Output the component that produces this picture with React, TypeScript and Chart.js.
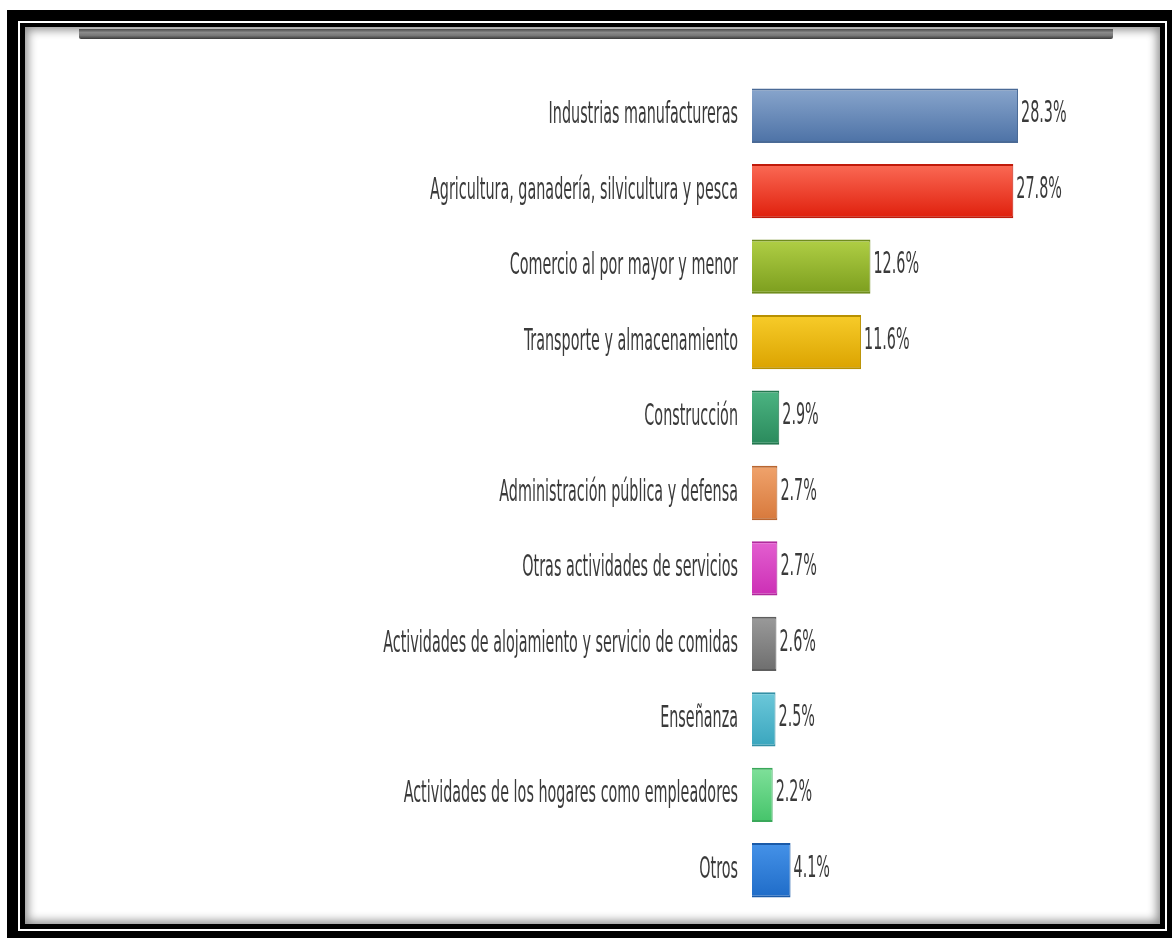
import React, { useEffect, useRef } from "react";
import { Chart, registerables } from "chart.js";

Chart.register(...registerables);

const categories = [
  "Industrias manufactureras",
  "Agricultura, ganadería, silvicultura y pesca",
  "Comercio al por mayor y menor",
  "Transporte y almacenamiento",
  "Construcción",
  "Administración pública y defensa",
  "Otras actividades de servicios",
  "Actividades de alojamiento y servicio de comidas",
  "Enseñanza",
  "Actividades de los hogares como empleadores",
  "Otros",
];

const values = [28.3, 27.8, 12.6, 11.6, 2.9, 2.7, 2.7, 2.6, 2.5, 2.2, 4.1];

const topColors = ["#88a5cc", "#fb6a55", "#b0cf45", "#f7cc2a", "#4cb482", "#f0a36c", "#e35fd0", "#9a9a9a", "#6cc8da", "#7fe09a", "#4592e8"];
const bottomColors = ["#4d72a6", "#df1f0c", "#7c9e1e", "#dba300", "#2a8a5c", "#d7793c", "#cc2fb5", "#6e6e6e", "#3aa6be", "#45c46a", "#1f6cc8"];
const borderColors = ["#4a6a96", "#c01a0a", "#6f8c1c", "#b89000", "#24774f", "#b86630", "#b02a9c", "#5e5e5e", "#3390a5", "#3aa85a", "#1a5aa8"];

const FONT = "'Liberation Sans Narrow', 'Arial Narrow', 'DejaVu Sans Condensed', 'Liberation Sans', sans-serif";

const labelsPlugin = {
  id: "stretchedLabels",
  afterDatasetsDraw(chart: any) {
    const ctx = chart.ctx;
    const meta = chart.getDatasetMeta(0);
    const yScale = chart.scales.y;
    const left = chart.chartArea.left;
    ctx.save();
    ctx.fillStyle = "#3a3a3a";
    ctx.font = `19px ${FONT}`;
    ctx.textBaseline = "middle";
    categories.forEach((cat, i) => {
      const y = yScale.getPixelForValue(i);
      ctx.save();
      ctx.translate(left - 14, y);
      ctx.scale(0.84, 1.55);
      ctx.textAlign = "right";
      ctx.fillText(cat, 0, 0);
      ctx.restore();
      const bar = meta.data[i];
      ctx.save();
      ctx.translate(bar.x + 3, bar.y - 1);
      ctx.scale(0.84, 1.55);
      ctx.textAlign = "left";
      ctx.fillText(values[i].toFixed(1) + "%", 0, 0);
      ctx.restore();
    });
    ctx.restore();
  },
};

export default function App() {
  const ref = useRef<HTMLCanvasElement>(null);
  useEffect(() => {
    if (!ref.current) return;
    const chart = new Chart(ref.current, {
      type: "bar",
      data: {
        labels: categories,
        datasets: [
          {
            data: values,
            backgroundColor: (c: any) => {
              const ch = c.chart;
              const ys = ch.scales && ch.scales.y;
              const i = c.dataIndex;
              if (!ys || i === undefined) return bottomColors[i || 0];
              const cy = ys.getPixelForValue(i);
              if (!isFinite(cy)) return bottomColors[i];
              const g = ch.ctx.createLinearGradient(0, cy - 27, 0, cy + 27);
              g.addColorStop(0, topColors[i]);
              g.addColorStop(1, bottomColors[i]);
              return g;
            },
            borderColor: borderColors,
            borderWidth: { top: 2, bottom: 2, left: 0, right: 1 },
            borderSkipped: false,
            barPercentage: 0.72,
            categoryPercentage: 1,
          },
        ],
      },
      options: {
        indexAxis: "y",
        responsive: false,
        animation: false,
        layout: { padding: { left: 752, top: 78, bottom: 30, right: 138 } },
        plugins: { legend: { display: false }, tooltip: { enabled: false } },
        scales: {
          x: { display: false, min: 0, max: 30 },
          y: { display: false },
        },
      },
      plugins: [labelsPlugin],
    });
    return () => chart.destroy();
  }, []);

  return (
    <div style={{ position: "fixed", left: 0, top: 0, width: 1172, height: 938, background: "#fff", overflow: "hidden" }}>
      <div style={{ position: "absolute", left: 7, top: 10, width: 1165, height: 928, background: "#000" }} />
      <div style={{ position: "absolute", left: 18, top: 21, width: 1149, height: 910, background: "#fff" }} />
      <div style={{ position: "absolute", left: 20, top: 23, width: 1145, height: 906, background: "#000" }} />
      <div
        style={{
          position: "absolute",
          left: 25,
          top: 27,
          width: 1135,
          height: 897,
          background: "#fff",
          boxShadow: "inset 0 0 10px 3px rgba(0,0,0,0.45)",
        }}
      />
      <div
        style={{
          position: "absolute",
          left: 79,
          top: 29,
          width: 1034,
          height: 10,
          background: "linear-gradient(#4a4a4a, #8a8a8a 35%, #777 65%, #3a3a3a)",
          borderRadius: "0 0 2px 2px",
        }}
      />
      <canvas ref={ref} width={1172} height={938} style={{ position: "absolute", left: 0, top: 0 }} />
    </div>
  );
}
